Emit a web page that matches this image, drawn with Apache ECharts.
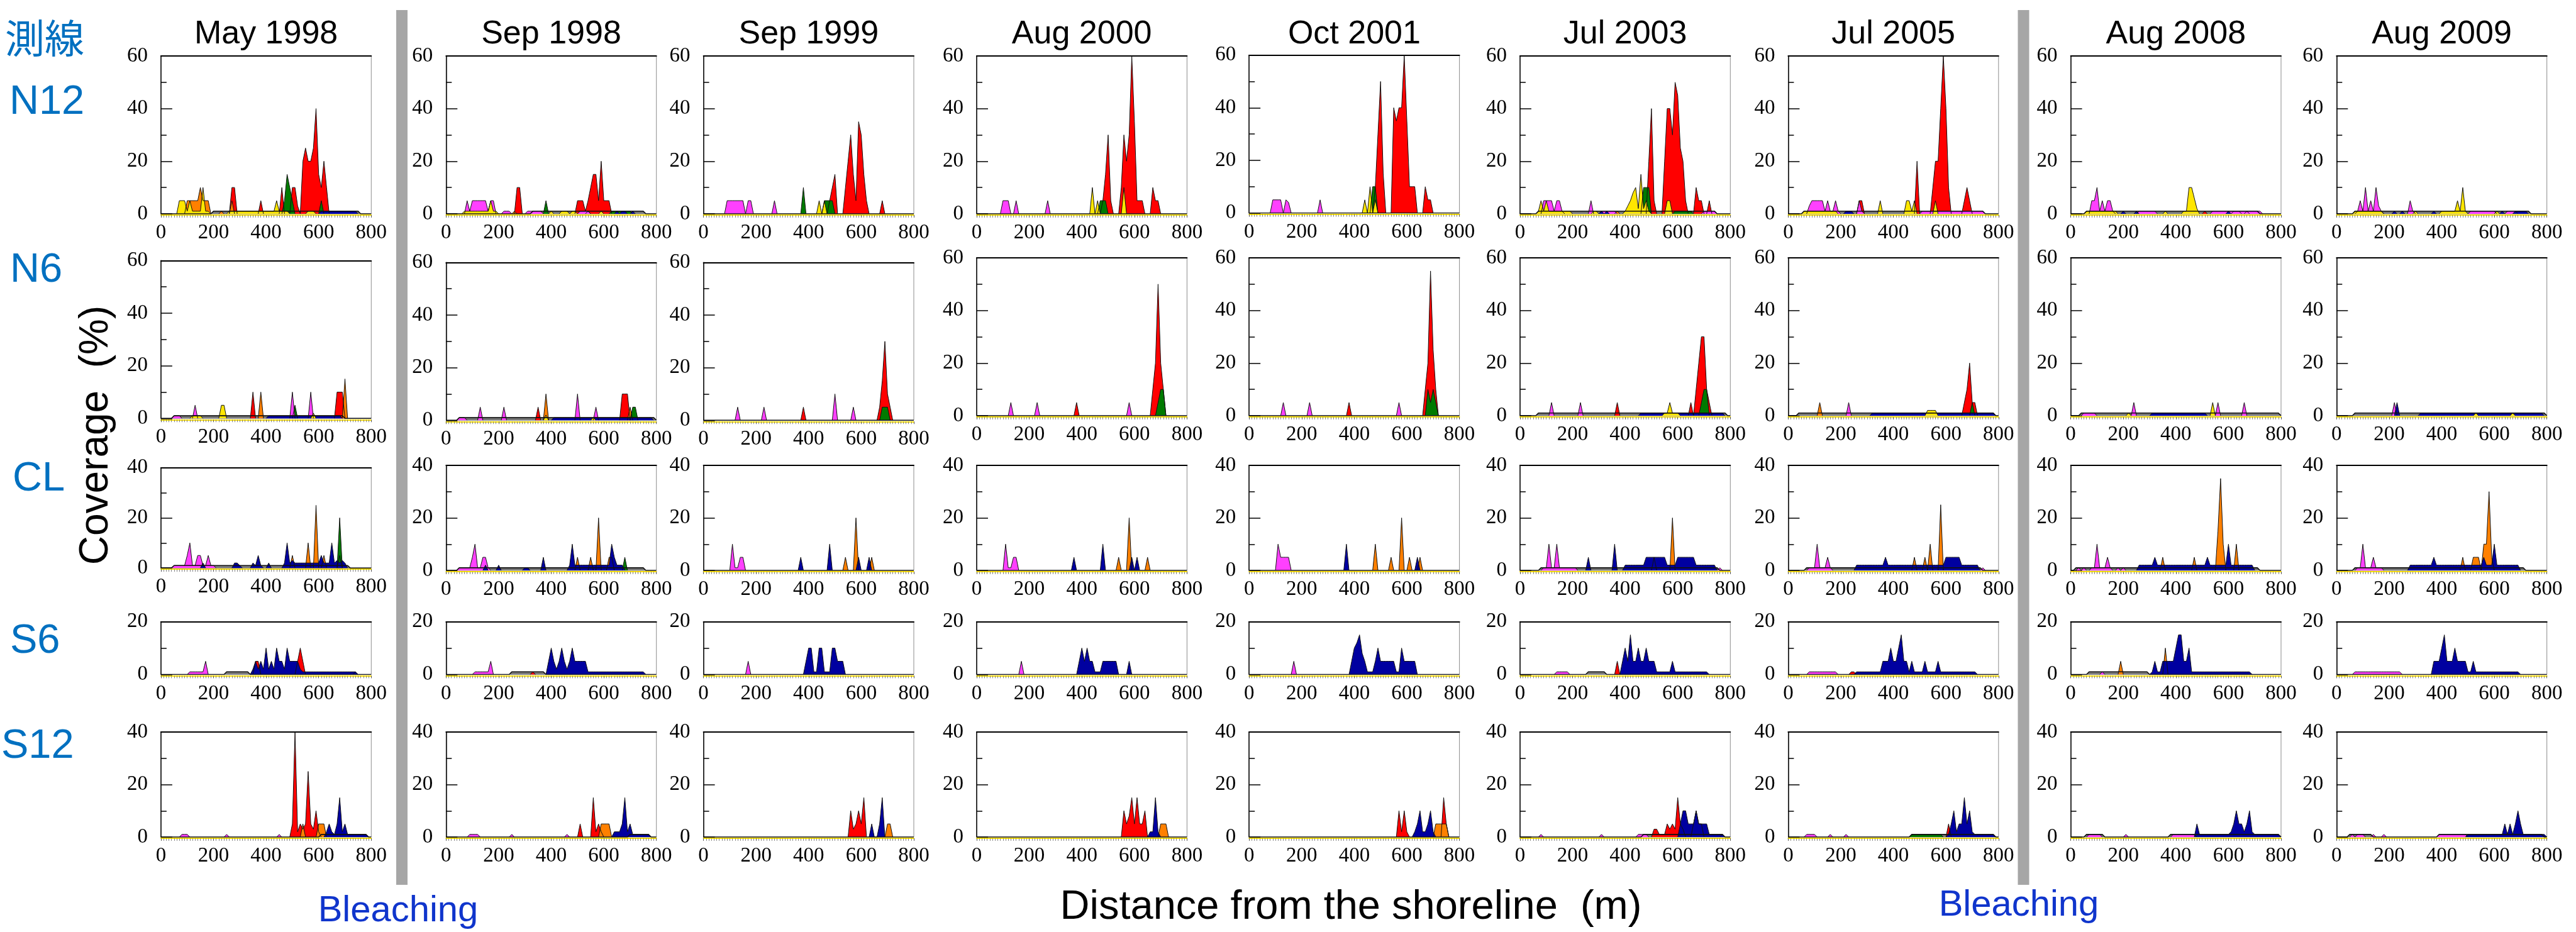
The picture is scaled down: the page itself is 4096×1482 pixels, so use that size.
<!DOCTYPE html>
<html>
<head>
<meta charset="utf-8">
<script src="https://cdn.jsdelivr.net/npm/echarts@6/dist/echarts.min.js"></script>
<style>
html, body { margin: 0; padding: 0; background: #fff; }
#chart { width: 4096px; height: 1482px; }
</style>
</head>
<body>
<div id="chart"></div>
<script>
// survey dates (columns) and transects (rows)
const columns = ['May 1998', 'Sep 1998', 'Sep 1999', 'Aug 2000', 'Oct 2001', 'Jul 2003', 'Jul 2005', 'Aug 2008', 'Aug 2009'];
const transects = ['N12', 'N6', 'CL', 'S6', 'S12'];
const yMax = [60, 60, 40, 20, 40];
const xMax = 800;
const STEP = 10; // distance between quadrats (m)

// each run = [start distance, value at start, value at start+10, ...]
// one entry per survey date
const N12_red = [
  [[260,0,10,10,0],[370,0,5,0],[450,0,10,0],[490,0,10,10,3,0,20,25,20,20,25,40,15,10,20,10,0]],
  [[260,0,10,10,0],[490,0,5,5,5,1,5,10,15,15,5,20,5,5,5,0]],
  [[470,0,5,10,15,0],[530,0,10,20,30,15,5,35,30,15,5,0],[670,0,5,0]],
  [[470,0,5,15,30,5,0],[540,0,10,30,20,30,60,35,5,5,5,0],[660,0,10,5,5,0]],
  [[470,0,10,30,50,15,0],[540,0,40,35,40,40,60,35,10,10,10,0],[660,0,10,5,5,0]],
  [[480,0,20,40,5,0],[540,0,20,40,40,30,50,45,25,20,5,0],[660,0,10,5,5,0],[710,0,5,0]],
  [[260,0,5,5,0],[480,0,20,0],[540,0,10,20,20,40,60,40,10,0],[660,0,5,10,5,0]],
  [[500,0,1,0],[610,0,1,1,1,0]],
  []
];
const N12_orange = [
  [[90,0,5,5,5,5,5,10,5,5,5,0],[220,0,1,0],[260,0,5,0]],
  [[250,0,1,0],[530,0,1,0]],
  [], [], [],
  [[360,0,1,0]],
  [],
  [[660,0,1,0]],
  []
];
const N12_green = [
  [[460,0,5,15,10,5,0],[600,0,5,0]],
  [[370,0,5,0],[620,0,1,1,1,1,1,1,1,1,0]],
  [[370,0,10,0],[450,0,5,5,5,5,0]],
  [[460,0,5,5,5,0]],
  [[460,0,10,10,0]],
  [[460,0,10,10,10,0],[580,0,1,1,1,1,1,1,1,0]],
  [], [], []
];
const N12_magenta = [
  [],
  [[70,0,5,1,5,5,5,5,5,5,1,5,5,0],[210,0,1,1,1,0],[300,0,1,1,1,1,1,1,0],[500,0,1,1,1,1,0]],
  [[80,0,5,5,5,5,5,5,5,0,5,5,0],[260,0,5,0]],
  [[90,0,5,5,5,0],[140,0,5,0],[260,0,5,0]],
  [[80,0,5,5,5,5,0,5,4,0],[260,0,5,0]],
  [[80,0,5,5,5,5,1,5,5,1,0],[260,0,5,0],[300,0,1,1,1,1,1,1,0],[690,0,1,1,1,1,1,0]],
  [[70,0,3,5,5,5,5,5,1,5,1,1,5,1,0],[260,0,5,1,0],[500,0,1,1,1,1,1,1,1,1,1,1,1,1,1,1,1,1,1,1,1,1,1,1,1,1,0]],
  [[70,0,5,5,10,1,5,1,5,5,1,0],[250,0,1,1,1,1,1,1,1,0],[530,0,1,1,1,1,1,1,1,1,1,1,1,1,1,1,1,1,1,1,1,0]],
  [[70,0,1,5,1,10,1,5,1,10,3,1,0],[270,0,5,1,0],[500,0,1,1,1,1,1,1,1,1,1,1,0],[640,0,1,1,1,1,0]]
];
const N12_blue = [
  [[600,0,1,1,1,1,1,1,1,1,1,1,1,1,1,1,0]],
  [[640,0,1,0],[660,0,1,1,0],[700,0,1,0]],
  [], [], [],
  [[300,0,1,0],[320,0,1,0]],
  [[210,0,1,1,1,0]],
  [[190,0,1,0],[240,0,1,0],[590,0,1,0]],
  [[210,0,1,0],[240,0,1,0],[360,0,1,0],[620,0,1,0],[670,0,1,1,1,1,1,0]]
];
const N12_yellow = [
  [[60,0,5,5,5,1,5,1,1,1,1,10,1,1,0],[250,0,1,1,1,1,1,1,1,1,1,1,1,1,1,1,1,1,1,1,5,1,1,1,1,0],[550,0,1,1,1,0]],
  [[60,0,1,1,1,1,1,1,1,1,1,1,5,1,1,0],[390,0,1,0],[430,0,1,1,1,0],[470,0,1,1,0],[580,0,1,0]],
  [[430,0,5,0,5,0]],
  [[430,0,10,0,5,0],[550,0,10,0]],
  [[430,0,5,0,10,0,5,0]],
  [[60,0,1,5,1,5,1,1,1,1,1,1,1,1,1,0],[270,0,1,1,0],[390,0,1,3,5,8,10,2,15,2,5,1,0],[550,0,5,5,0]],
  [[50,0,1,1,1,1,1,1,1,1,1,1,1,1,1,0],[340,0,5,0],[440,0,5,5,1,5,0],[550,0,5,0]],
  [[50,0,1,1,1,1,1,1,1,1,1,1,1,1,0],[350,0,1,0],[420,0,1,1,10,10,6,2,0]],
  [[60,0,1,1,1,1,1,1,1,1,1,1,1,0],[290,0,1,0],[390,0,1,1,1,1,1,1,5,1,10,1,0],[600,0,1,0]]
];
// low mixed cover: [from, to, level]
const N12_other = [[[190,760,1]], [[320,760,1]], [], [], [], [[60,750,1]], [[50,750,1]], [[50,720,1]], [[60,740,1]]];

const N6_red = [
  [[340,0,10,0],[660,0,10,10,10,0]],
  [[340,0,5,0],[660,0,10,10,10,0]],
  [[370,0,5,0],[660,0,5,15,30,10,5,0]],
  [[370,0,5,0],[660,0,10,20,50,20,10,0]],
  [[370,0,5,0],[660,0,10,20,55,25,10,0]],
  [[360,0,5,0],[640,0,5,0,10,20,30,30,10,5,0]],
  [[660,0,5,10,20,5,5,0]],
  [], []
];
const N6_orange = [
  [[370,0,10,0],[690,0,15,0]],
  [[370,0,10,0],[690,0,5,0]],
  [], [], [], [],
  [[110,0,5,0]],
  [], []
];
const N6_green = [
  [[500,0,5,0]],
  [[700,0,5,5,0]],
  [[670,0,5,5,5,0]],
  [[680,0,5,10,10,0]],
  [[670,0,10,5,10,5,0]],
  [[680,0,5,10,10,0]],
  [[690,0,5,0]],
  [], []
];
const N6_magenta = [
  [[40,0,1,1,1,0],[120,0,5,0],[490,0,10,0],[560,0,10,0]],
  [[40,0,1,1,1,0],[120,0,5,0],[210,0,5,0],[490,0,10,0],[560,0,5,0]],
  [[120,0,5,0],[220,0,5,0],[490,0,10,0],[560,0,5,0]],
  [[120,0,5,0],[220,0,5,0],[570,0,5,0]],
  [[120,0,5,0],[220,0,5,0],[560,0,5,0]],
  [[110,0,5,0],[220,0,5,0]],
  [[220,0,5,0]],
  [[40,0,1,1,1,1,1,0],[230,0,5,0],[550,0,5,0],[650,0,5,0]],
  [[210,0,5,0]]
];
const N6_blue = [
  [[400,0,1,1,1,1,1,1,1,1,1,1,1,1,1,1,1,1,1,1,1,1,1,1,1,1,1,1,1,1,0]],
  [[400,0,1,1,1,1,1,1,1,1,1,1,1,1,1,1,1,1,1,1,1,1,1,1,1,1,1,1,1,1,1,1,1,1,1,1,1,1,1,1,0]],
  [], [], [],
  [[450,0,1,1,1,1,1,1,1,1,1,1,1,1,1,1,1,1,1,1,1,1,1,1,1,1,1,1,1,1,1,1,1,1,0]],
  [[310,0,1,1,1,1,1,1,1,1,1,1,1,1,1,1,1,1,1,1,1,1,1,1,1,1,1,1,1,1,1,1,1,1,1,1,1,1,1,1,1,1,1,1,1,1,1,1,1,0]],
  [[300,0,1,1,1,1,1,1,1,1,1,1,1,1,1,1,1,1,1,1,1,1,1,0]],
  [[220,0,5,0],[310,0,1,1,1,1,1,1,1,1,1,1,1,1,1,1,1,1,1,1,1,1,1,1,1,1,1,1,1,1,1,1,1,1,1,1,1,1,1,1,1,1,1,1,1,1,1,1,1,0]]
];
const N6_yellow = [
  [[110,0,1,1,1,1,0],[220,0,5,5,0],[570,0,2,0]],
  [[370,0,2,0],[550,0,1,0]],
  [], [], [],
  [[540,0,1,1,5,1,1,1,0]],
  [[520,0,2,2,2,2,0]],
  [[210,0,1,0],[530,0,5,0]],
  [[520,0,1,0],[660,0,1,0]]
];
const N6_other = [[[40,700,1]], [[40,800,1]], [], [], [], [[60,790,1]], [[30,790,1]], [[30,800,1]], [[60,800,1]]];

const CL_green = [[[670,0,20,0]], [[670,0,5,0]], [], [], [], [], [], [], []];
const CL_orange = [
  [[490,0,5,0],[550,0,10,0],[580,0,25,0],[610,0,5,0],[670,0,5,0]],
  [[490,0,5,0],[540,0,5,0],[570,0,20,0],[610,0,5,5,0]],
  [[530,0,5,0],[570,0,20,0],[630,0,5,0]],
  [[530,0,5,0],[570,0,20,0],[640,0,5,0]],
  [[470,0,10,0],[530,0,5,0],[570,0,20,0],[600,0,5,0],[640,0,5,0]],
  [[500,0,5,0],[570,0,20,0]],
  [[470,0,5,0],[510,0,5,0],[530,0,10,0],[570,0,25,0]],
  [[340,0,5,0],[460,0,5,0],[550,0,15,35,10,0],[620,0,10,0]],
  [[470,0,5,0],[510,0,5,5,5,0],[550,0,10,10,30,5,0]]
];
const CL_magenta = [
  [[40,0,1,1,1,1,1,5,10,1,1,5,5,1,1,5,1,1,0]],
  [[40,0,1,1,1,1,1,5,10,1,1,5,5,1,0]],
  [[100,0,10,1,1,5,5,0]],
  [[100,0,10,1,1,5,5,0]],
  [[100,0,10,5,5,5,5,0]],
  [[80,0,1,1,10,1,1,10,1,1,1,1,1,1,1,0],[750,0,1,0]],
  [[70,0,1,1,1,10,1,1,1,5,1,0],[730,0,1,0]],
  [[20,0,1,0],[40,0,1,0],[70,0,1,1,10,1,1,1,5,1,0],[170,0,1,0],[190,0,1,0]],
  [[70,0,1,1,10,1,1,1,5,1,1,1,0]]
];
const CL_blue = [
  [[150,0,2,0],[270,0,2,2,1,0],[340,0,2,1,5,1,0],[400,0,2,0],[460,0,2,10,2,3,2,2,2,2,2,2,2,2,2,2,5,2,2,2,10,2,3,2,3,2,0]],
  [[140,0,2,0],[190,0,2,0],[290,0,1,1,0],[360,0,5,0],[460,0,2,10,2,2,2,2,2,2,2,2,2,2,2,2,2,2,10,5,2,2,2,0]],
  [[360,0,5,0],[470,0,10,0],[580,0,5,0],[620,0,5,0]],
  [[360,0,5,0],[470,0,10,0],[580,0,5,0],[600,0,5,0]],
  [[360,0,10,0],[630,0,5,0]],
  [[250,0,5,0],[350,0,10,0],[390,0,2,2,2,2,2,2,2,2,5,5,5,5,5,5,5,5,2,2,2,2,5,5,5,5,5,5,5,2,2,2,2,2,2,2,2,0]],
  [[250,0,2,2,2,2,2,2,2,2,2,2,2,5,2,2,2,2,2,2,2,2,2,2,2,2,2,2,2,2,2,2,2,2,2,2,5,5,5,5,5,5,2,2,2,2,2,2,2,0]],
  [[250,0,2,2,2,2,2,2,5,2,2,2,2,2,2,2,2,2,2,2,2,2,2,2,2,2,2,2,5,2,2,2,2,2,2,2,10,2,2,2,2,2,2,2,2,2,0]],
  [[270,0,2,2,2,2,2,2,2,2,2,5,2,2,2,2,2,2,2,2,2,2,2,2,2,2,2,2,2,2,5,2,2,2,10,2,2,2,2,2,2,2,2,2,0]]
];
const CL_other = [[[40,720,1]], [[40,760,1]], [], [], [], [[70,760,1]], [[60,740,1]], [[10,720,1]], [[60,720,1]]];

const S6_red = [
  [[350,0,5,5,0],[510,0,5,10,5,0]],
  [[320,0,1,0]],
  [], [], [],
  [[360,0,5,0]],
  [[230,0,1,1,0]],
  [], []
];
const S6_orange = [[], [], [], [], [], [], [], [[180,0,5,0],[350,0,10,0]], []];
const S6_magenta = [
  [[100,0,1,1,1,1,1,1,5,0],[730,0,1,0]],
  [[100,0,1,1,1,1,1,1,5,0]],
  [[160,0,5,0]],
  [[160,0,5,0]],
  [[160,0,5,0]],
  [[130,0,1,1,1,1,1,0]],
  [[70,0,1,1,1,1,1,1,1,1,1,1,1,0]],
  [[110,0,1,0]],
  [[60,0,1,1,1,1,1,1,1,1,1,1,1,1,1,1,1,1,1,1,0]]
];
const S6_blue = [
  [[340,0,2,5,2,5,2,10,2,5,2,10,5,5,2,10,5,5,5,5,2,1,1,1,1,1,1,1,1,1,1,1,1,1,1,1,1,1,1,1,1,1,0]],
  [[380,0,5,10,5,2,5,10,5,2,5,10,5,5,5,5,5,1,1,1,1,1,1,1,1,1,1,1,1,1,1,1,1,1,1,1,1,1,1,0]],
  [[380,0,5,10,10,1,1,10,10,1,1,1,10,10,5,5,5,0]],
  [[380,0,5,10,5,10,5,5,1,1,1,5,5,5,5,5,5,0],[570,0,5,0]],
  [[380,0,5,10,12,15,8,5,1,1,1,5,10,5,5,5,5,5,5,1,1,10,5,5,5,5,5,0]],
  [[380,0,5,10,5,15,5,5,10,5,5,10,5,5,5,1,1,1,1,1,1,5,1,1,1,1,1,1,1,1,1,1,1,1,1,0]],
  [[250,0,1,1,1,1,1,1,1,1,1,1,5,5,5,10,5,5,10,15,5,5,1,5,1,1,1,1,5,1,1,1,1,5,1,1,1,1,1,1,1,1,1,1,1,1,1,1,0]],
  [[300,0,1,5,1,1,5,5,5,5,5,10,15,15,5,5,10,1,1,1,1,1,1,1,1,1,1,1,1,1,1,1,1,1,1,1,1,1,1,1,0]],
  [[360,0,5,5,5,10,15,5,5,5,10,5,5,5,5,1,1,5,1,1,1,1,1,1,1,1,1,1,1,1,1,1,1,1,1,0]]
];
const S6_other = [[[240,340,1]], [[240,380,1]], [], [], [], [[250,330,1]], [], [[60,300,1]], []];

const S12_red = [
  [[490,0,5,40,2,5,3,5,25,5,3,10,2,0]],
  [[500,0,5,0],[550,0,15,2,5,2,0]],
  [[550,0,10,3,5,10,5,15,0]],
  [[550,0,10,5,8,15,5,15,5,5,10,0]],
  [[560,0,10,2,10,2,0],[730,0,15,5,0]],
  [[500,0,3,3,1,1,1,5,3,5,3,15,5,3,0]],
  [[600,0,5,0]],
  [], []
];
const S12_orange = [
  [[530,0,5,0],[590,0,5,5,5,0]],
  [[580,0,5,5,5,5,0]],
  [[690,0,5,5,0]],
  [[690,0,5,5,5,0]],
  [[700,0,5,5,5,5,5,0]],
  [[650,0,5,10,5,5,0]],
  [], [], []
];
const S12_green = [[], [], [], [], [], [], [[460,0,1,1,1,1,1,1,1,1,1,1,1,1,0]], [], []];
const S12_magenta = [
  [[70,0,1,1,1,0],[240,0,1,0],[440,0,1,0]],
  [[80,0,1,1,1,1,0],[240,0,1,0],[450,0,1,0]],
  [], [], [],
  [[70,0,1,0],[300,0,1,0],[440,0,1,1,1,1,0],[760,0,1,0]],
  [[60,0,1,1,1,1,0],[150,0,1,0],[210,0,1,0]],
  [[60,0,1,1,1,1,1,0],[200,0,1,0],[380,0,1,1,1,1,1,1,1,1,1,0]],
  [[50,0,1,0],[70,0,1,1,1,0],[130,0,1,0],[170,0,1,0],[380,0,1,1,1,1,1,1,1,1,1,1,1,0]]
];
const S12_blue = [
  [[620,0,2,5,2,1,5,15,2,5,1,1,1,1,1,1,1,1,0]],
  [[630,0,2,2,2,5,15,2,5,1,1,1,1,1,1,1,0]],
  [[630,0,5,0,0,5,15,0]],
  [[650,0,2,2,15,2,0]],
  [[620,0,2,5,10,2,2,5,10,2,0]],
  [[600,0,5,10,10,5,5,5,10,5,5,5,5,1,1,1,1,1,1,0]],
  [[600,0,1,5,10,2,5,5,15,5,10,2,1,1,1,1,1,1,1,1,0]],
  [[470,0,5,1,1,1,1,1,1,1,1,1,1,1,1,2,5,10,5,5,2,5,10,2,1,1,1,1,1,1,1,1,1,1,0]],
  [[490,0,1,1,1,1,1,1,1,1,1,1,1,1,1,1,5,1,5,1,5,10,5,1,1,1,1,1,1,1,1,1,0]]
];
const S12_other = [[[600,790,1]], [[690,780,1]], [], [], [], [[460,780,1]], [[460,790,1]], [[50,130,1],[370,800,1]], [[40,140,1],[380,790,1]]];

const rowSets = [
  { other: N12_other, red: N12_red, orange: N12_orange, green: N12_green, magenta: N12_magenta, blue: N12_blue, yellow: N12_yellow },
  { other: N6_other, red: N6_red, orange: N6_orange, green: N6_green, magenta: N6_magenta, blue: N6_blue, yellow: N6_yellow },
  { other: CL_other, orange: CL_orange, green: CL_green, magenta: CL_magenta, blue: CL_blue },
  { other: S6_other, red: S6_red, orange: S6_orange, magenta: S6_magenta, blue: S6_blue },
  { other: S12_other, red: S12_red, orange: S12_orange, green: S12_green, magenta: S12_magenta, blue: S12_blue }
];

// drawing order (back to front) and fills
const seriesKeys = ['other', 'red', 'orange', 'green', 'magenta', 'blue', 'yellow'];
const fills = {
  other: '#7A7A7A', red: '#FF0000', orange: '#FF8000', green: '#007A00',
  magenta: '#FF40FF', blue: '#0000A0', yellow: '#FFE600'
};

// layout (px)
const colLeft = [255.9, 709.3, 1118.6, 1553.0, 1986.2, 2416.9, 2843.4, 3292.6, 3715.3];
const panelW = 334.4;
const rowTop = [89, 410, 740, 988.5, 1164];
const rowH = [251, 251, 167, 84, 167];
const topAdj = [
  [0, 0, 0, 0, -1.3, 0, 0, 0, 0],
  [4.3, 7.3, 7.3, 0, 0, 0, 0, 0, 0],
  [3.7, 0, 0, 0, 0, 0, 0, 0, 0],
  [0, 0, 0, 0, 0, 0, 0, 0, 0],
  [0, 0, 0, 0, 0, 0, 0, 0, 0]
];
const hAdj = [
  [0, 0, 0, 0, 0, 0, 0, 0, 0],
  [0, 0, 0, 0, 0, 0, 0, 0, 0],
  [-7.5, 0, 0, 0, 0, 0, 0, 0, 0],
  [0, 0, 0, 0, 0, 0, 0, 0, 0],
  [0, 0, 0, 0, 0, 0, 0, 0, 0]
];

function runPoints(runs) {
  const pts = [];
  runs.slice().sort((a, b) => a[0] - b[0]).forEach(run => {
    if (pts.length) pts.push([run[0], null]);
    for (let i = 1; i < run.length; i++) pts.push([run[0] + (i - 1) * STEP, run[i]]);
  });
  return pts;
}
function basePoints(segs) {
  const pts = [[0, 0]];
  segs.forEach(([a, b, v]) => { pts.push([a, 0], [a + STEP, v], [b - STEP, v], [b, 0]); });
  pts.push([xMax, 0]);
  return pts;
}

const serif = 'Liberation Serif';
const sans = 'Liberation Sans';
const grids = [], xAxes = [], yAxes = [], series = [];

transects.forEach((t, r) => {
  columns.forEach((col, c) => {
    const p = grids.length;
    grids.push({
      left: colLeft[c], top: rowTop[r] + topAdj[r][c], width: panelW, height: rowH[r] + hAdj[r][c],
      show: true, borderColor: '#8c8c8c', borderWidth: 1, backgroundColor: 'transparent',
      containLabel: false, outerBoundsMode: 'none'
    });
    xAxes.push({
      gridIndex: p, type: 'value', min: 0, max: xMax, interval: 200, position: 'bottom', offset: 2,
      axisLine: { show: true, onZero: false, lineStyle: { color: '#FFE000', width: 2 } },
      axisTick: { show: true, length: 4, lineStyle: { color: '#555', width: 1 } },
      minorTick: { show: true, splitNumber: 20, length: 4, lineStyle: { color: '#666', width: 0.8 } },
      splitLine: { show: false },
      axisLabel: { fontSize: 33, fontFamily: serif, color: '#000', margin: 12 }
    });
    xAxes.push({
      gridIndex: p, type: 'value', min: 0, max: xMax, position: 'top',
      axisLine: { show: true, onZero: false, lineStyle: { color: '#000', width: 2 } },
      axisTick: { show: false }, axisLabel: { show: false }, splitLine: { show: false }
    });
    yAxes.push({
      gridIndex: p, type: 'value', min: 0, max: yMax[r], interval: 20,
      axisLine: { show: true, lineStyle: { color: '#000', width: 1.5 } },
      axisTick: { show: true, inside: true, length: 18, lineStyle: { color: '#000', width: 1.5 } },
      minorTick: { show: true, splitNumber: 2, length: 9, lineStyle: { color: '#000', width: 1.5 } },
      splitLine: { show: false },
      axisLabel: { fontSize: 33, fontFamily: serif, color: '#000', margin: 21 }
    });
    seriesKeys.forEach(k => {
      const set = rowSets[r][k];
      let data;
      if (k === 'other') data = basePoints(set ? set[c] : []);
      else {
        const runs = set ? set[c] : [];
        if (!runs || !runs.length) return;
        data = runPoints(runs);
      }
      series.push({
        type: 'line', name: k, xAxisIndex: 2 * p, yAxisIndex: p, data,
        symbol: 'none', silent: true, animation: false, connectNulls: false,
        lineStyle: { color: '#111', width: k === 'other' ? 1.6 : 1 },
        areaStyle: { color: fills[k], opacity: 1 }
      });
    });
  });
});

const graphic = [];
// bleaching separators
[630, 3208.5].forEach(x => graphic.push({
  type: 'rect', silent: true, shape: { x: x, y: 16, width: 18, height: 1391 }, style: { fill: '#A6A6A6' }
}));
function label(text, x, y, size, color, family, align, rot) {
  graphic.push({
    type: 'text', silent: true, x: x, y: y, rotation: rot || 0,
    style: {
      text: text, fontSize: size, fontFamily: family, fill: color,
      textAlign: align || 'center', align: align || 'center',
      textVerticalAlign: 'middle', verticalAlign: 'middle'
    }
  });
}
columns.forEach((col, c) => label(col, colLeft[c] + panelW / 2, 55, 52, '#000', sans));
const blue = '#0070C0';
label('測線', 8, 60, 63, blue, '"Noto Sans CJK JP", "Noto Sans CJK SC"', 'left');
label('N12', 15, 163, 65, blue, sans, 'left');
label('N6', 16, 430, 65, blue, sans, 'left');
label('CL', 20, 762, 65, blue, sans, 'left');
label('S6', 16, 1020, 65, blue, sans, 'left');
label('S12', 2, 1187, 65, blue, sans, 'left');
label('Coverage  (%)', 153, 692, 64, '#000', sans, 'center', Math.PI / 2);
label('Distance from the shoreline  (m)', 2148, 1443, 65, '#000', sans);
label('Bleaching', 633, 1449, 58, '#1035CC', sans);
label('Bleaching', 3210, 1440, 58, '#1035CC', sans);

const chart = echarts.init(document.getElementById('chart'), null, { renderer: 'canvas', width: 4096, height: 1482 });
chart.setOption({
  animation: false,
  backgroundColor: '#fff',
  grid: grids,
  xAxis: xAxes,
  yAxis: yAxes,
  series: series,
  graphic: graphic
});
</script>
</body>
</html>
